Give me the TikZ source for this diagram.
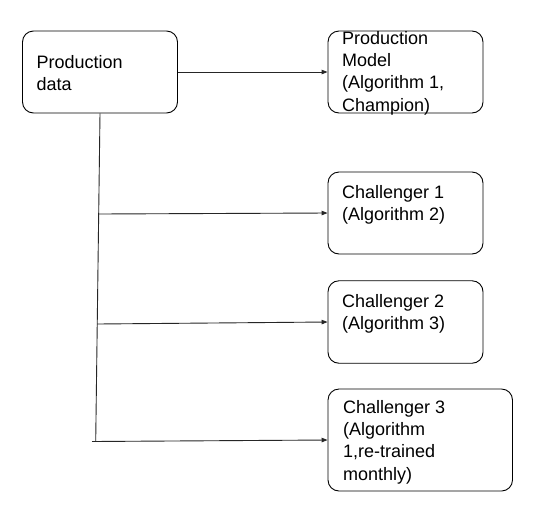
\documentclass[tikz,border=0pt]{standalone}
\usepackage{fontspec}
\setmainfont{Liberation Sans}
\usetikzlibrary{arrows.meta}
\begin{document}
\begin{tikzpicture}[x=1pt,y=-1pt,
  box/.style={draw=black,line width=0.9pt,rounded corners=11pt,minimum width=#1,inner sep=0pt},
  box/.default=155pt,
  txt/.style={anchor=base west,inner sep=0pt,align=left,font=\fontsize{18}{22.3}\selectfont},
  conn/.style={draw=black!85,line width=0.9pt},
  arr/.style={conn,-{Triangle[length=6pt,width=4.5pt]}}]
\useasboundingbox[fill=white] (0,0) rectangle (545,517);
% boxes
\node[box,minimum height=82pt] (A) at (100,72) {};
\node[box,minimum height=82pt] (B) at (405.5,72) {};
\node[box,minimum height=82pt] (C1) at (405.5,213) {};
\node[box,minimum height=82.5pt] (C2) at (405.5,322) {};
\node[box=184.5pt,minimum height=102pt] (C3) at (420.25,440) {};
% texts (anchored at the baseline of the last line)
\node[txt] (tA) at (36.5,90.3) {Production\\data};
\node[txt] (tB) at (342,111) {Production\\Model\\(Algorithm 1,\\Champion)};
\node[txt] (tC1) at (342,220.8) {Challenger 1\\(Algorithm 2)};
\node[txt] (tC2) at (342,329.6) {Challenger 2\\(Algorithm 3)};
\node[txt] (tC3) at (343,480.2) {Challenger 3\\(Algorithm\\1,re-trained\\monthly)};
% connectors
\coordinate (j1) at (98.7,214);
\coordinate (j2) at (97.2,324);
\coordinate (j3) at (95.7,441.5);
\coordinate (t3) at (92,441.5);
\draw[arr] (A) -- (B);
\draw[conn] (A.south) -- (j3);
\draw[arr] (j1) -- (C1.west);
\draw[arr] (j2) -- (C2.west);
\draw[arr] (t3) -- (C3.west);
\end{tikzpicture}
\end{document}
